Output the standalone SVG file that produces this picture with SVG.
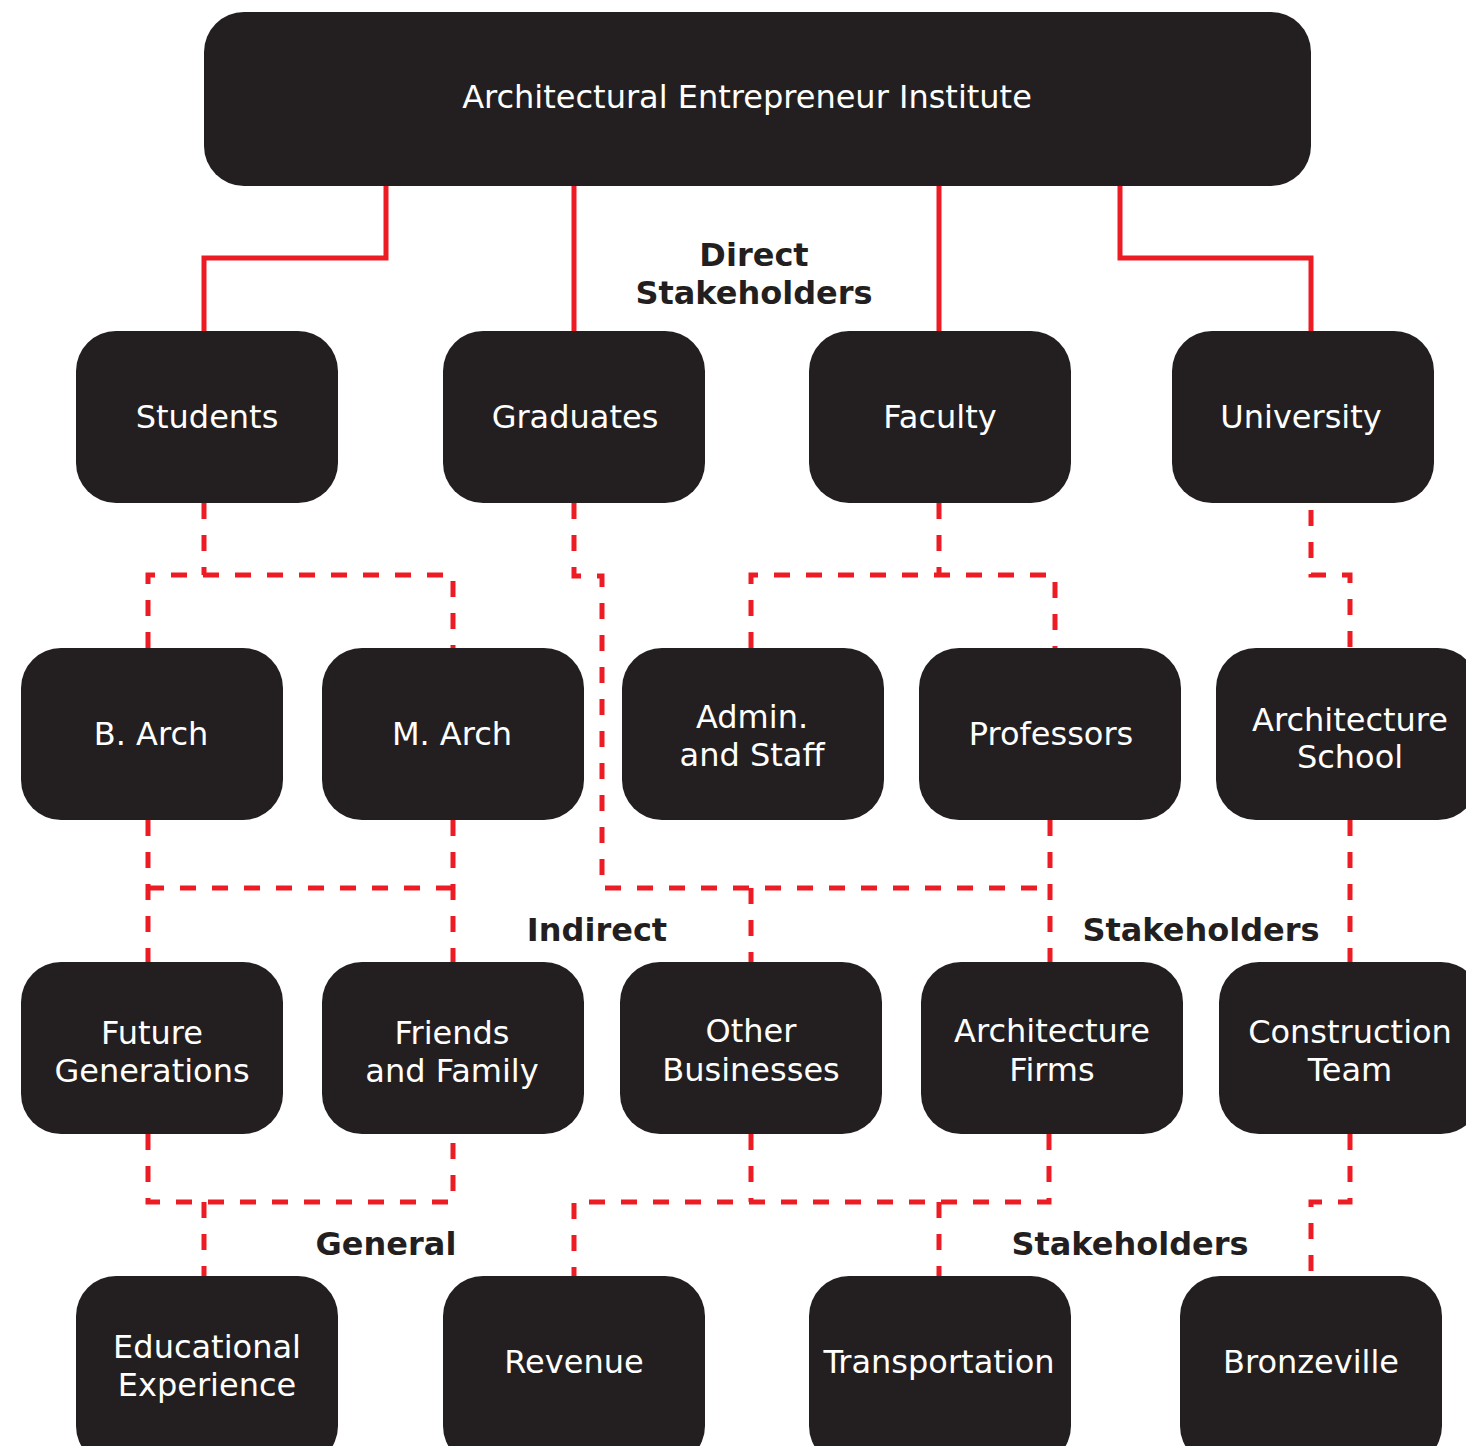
<svg xmlns="http://www.w3.org/2000/svg" width="1466" height="1446" viewBox="0 0 1466 1446">
<style>
.n{fill:#231f20}
.t{fill:#fff;font-family:"DejaVu Sans",Verdana,sans-serif;font-size:32px;text-anchor:middle}
.l{fill:#231f20;font-family:"DejaVu Sans",Verdana,sans-serif;font-size:32px;font-weight:bold;text-anchor:middle}
.s{fill:none;stroke:#ed1c24;stroke-width:5}
.d{fill:none;stroke:#ed1c24;stroke-width:5;stroke-dasharray:16 16}
</style>
<rect width="1466" height="1446" fill="#fff"/>
<g id="connectors">
<path class="s" d="M386 186V258H204V331"/>
<path class="s" d="M574 186V331"/>
<path class="s" d="M939 186V331"/>
<path class="s" d="M1120 186V258H1311V331"/>
<path class="d" d="M204 503V575"/>
<path class="d" d="M148 648V575H453V648"/>
<path class="d" d="M148 820V962"/>
<path class="d" d="M453 820V962"/>
<path class="d" d="M148 888H453"/>
<path class="d" d="M574 503V576H602V888H1050"/>
<path class="d" d="M751 888V962"/>
<path class="d" d="M1050 820V962"/>
<path class="d" d="M939 503V575"/>
<path class="d" d="M751 648V575H1055V648"/>
<path class="d" d="M1311 510V575H1350V648"/>
<path class="d" d="M1350 820V962"/>
<path class="d" d="M148 1134V1202H453V1134"/>
<path class="d" d="M204 1202V1276"/>
<path class="d" d="M751 1134V1202"/>
<path class="d" d="M1049 1134V1202H574V1276"/>
<path class="d" d="M939 1202V1276"/>
<path class="d" d="M1350 1134V1202H1311V1276"/>
</g>
<g id="labels">
<text class="l" x="754" y="266">Direct</text>
<text class="l" x="754" y="304">Stakeholders</text>
<text class="l" x="597" y="941">Indirect</text>
<text class="l" x="1201" y="941">Stakeholders</text>
<text class="l" x="386" y="1255">General</text>
<text class="l" x="1130" y="1255">Stakeholders</text>
</g>
<g id="aei"><rect class="n" x="204" y="12" width="1107" height="174" rx="40"/><text class="t" x="747" y="108">Architectural Entrepreneur Institute</text></g>
<g id="students"><rect class="n" x="76" y="331" width="262" height="172" rx="40"/><text class="t" x="207" y="428">Students</text></g>
<g id="graduates"><rect class="n" x="443" y="331" width="262" height="172" rx="40"/><text class="t" x="575" y="428">Graduates</text></g>
<g id="faculty"><rect class="n" x="809" y="331" width="262" height="172" rx="40"/><text class="t" x="940" y="428">Faculty</text></g>
<g id="university"><rect class="n" x="1172" y="331" width="262" height="172" rx="40"/><text class="t" x="1301" y="428">University</text></g>
<g id="barch"><rect class="n" x="21" y="648" width="262" height="172" rx="40"/><text class="t" x="151" y="745">B. Arch</text></g>
<g id="march"><rect class="n" x="322" y="648" width="262" height="172" rx="40"/><text class="t" x="452" y="745">M. Arch</text></g>
<g id="admin"><rect class="n" x="622" y="648" width="262" height="172" rx="40"/><text class="t" x="752" y="728">Admin.</text><text class="t" x="752" y="766">and Staff</text></g>
<g id="professors"><rect class="n" x="919" y="648" width="262" height="172" rx="40"/><text class="t" x="1051" y="745">Professors</text></g>
<g id="archschool"><rect class="n" x="1216" y="648" width="262" height="172" rx="40"/><text class="t" x="1350" y="731">Architecture</text><text class="t" x="1350" y="768">School</text></g>
<g id="future"><rect class="n" x="21" y="962" width="262" height="172" rx="40"/><text class="t" x="152" y="1044">Future</text><text class="t" x="152" y="1082">Generations</text></g>
<g id="friends"><rect class="n" x="322" y="962" width="262" height="172" rx="40"/><text class="t" x="452" y="1044">Friends</text><text class="t" x="452" y="1082">and Family</text></g>
<g id="other"><rect class="n" x="620" y="962" width="262" height="172" rx="40"/><text class="t" x="751" y="1042">Other</text><text class="t" x="751" y="1081">Businesses</text></g>
<g id="firms"><rect class="n" x="921" y="962" width="262" height="172" rx="40"/><text class="t" x="1052" y="1042">Architecture</text><text class="t" x="1052" y="1081">Firms</text></g>
<g id="construction"><rect class="n" x="1219" y="962" width="262" height="172" rx="40"/><text class="t" x="1350" y="1043">Construction</text><text class="t" x="1350" y="1081">Team</text></g>
<g id="educational"><rect class="n" x="76" y="1276" width="262" height="190" rx="40"/><text class="t" x="207" y="1358">Educational</text><text class="t" x="207" y="1396">Experience</text></g>
<g id="revenue"><rect class="n" x="443" y="1276" width="262" height="190" rx="40"/><text class="t" x="574" y="1373">Revenue</text></g>
<g id="transportation"><rect class="n" x="809" y="1276" width="262" height="190" rx="40"/><text class="t" x="939" y="1373">Transportation</text></g>
<g id="bronzeville"><rect class="n" x="1180" y="1276" width="262" height="190" rx="40"/><text class="t" x="1311" y="1373">Bronzeville</text></g>
</svg>
